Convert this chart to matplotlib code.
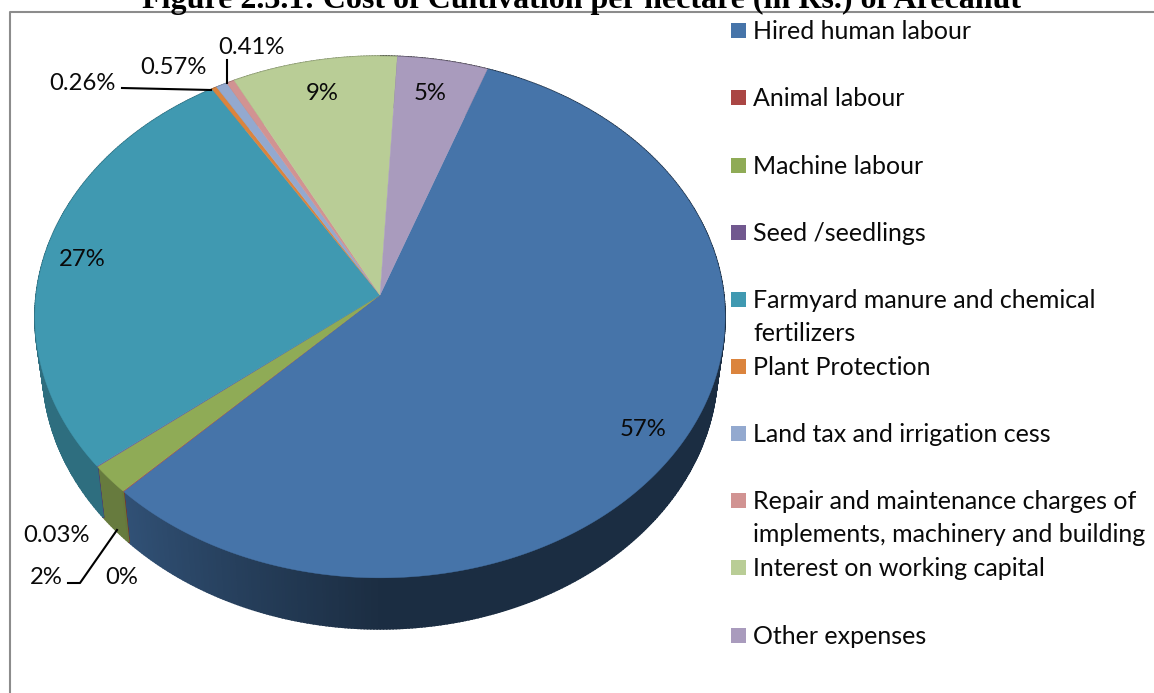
import numpy as np
import matplotlib
matplotlib.use("Agg")
import matplotlib.pyplot as plt
from matplotlib.colors import to_rgb

categories = ["Hired human labour", "Animal labour", "Machine labour", "Seed /seedlings",
              "Farmyard manure and chemical\nfertilizers", "Plant Protection",
              "Land tax and irrigation cess",
              "Repair and maintenance charges of\nimplements, machinery and building",
              "Interest on working capital", "Other expenses"]
# percentages
values = [56.9, 0.03, 1.8, 0.04, 27.0, 0.26, 0.57, 0.41, 8.4, 4.6]
value_labels = ["57%", "0.03%", "2%", "0%", "27%", "0.26%", "0.57%", "0.41%", "9%", "5%"]
colors = ["#4674a9", "#aa4644", "#8fab56", "#71588f", "#4099b1",
          "#db843d", "#93a9cf", "#d19392", "#b9cd96", "#a99bbd"]

title = "Figure 2.3.1: Cost of Cultivation per hectare (in Rs.) of Arecanut"

# pixel positions of the labels
label_pos = [(643, 429), (57, 535), (46, 577), (122, 578), (82, 260),
             (82, 83), (173, 67), (251, 47), (322, 93), (430, 93)]
legend_y = [30, 97, 165, 232, 299, 366, 433, 500, 567, 635]

# pie geometry, fitted on the picture
APEX_X, APEX_Y = 380, 295
A, B, K = 343.8, 259.0, 0.0843
START = 19.7
WALL_DY = 51
WALL_SX = 0.978


def rim(phi_deg, scale_x=1.0, dy=0.0):
    # phi clockwise from the top of the pie, slight perspective
    phi = np.radians(phi_deg)
    u, v = np.sin(phi), np.cos(phi)
    w = 1 + K * v
    return APEX_X + scale_x * A * u / w, APEX_Y + dy - B * v / w


def shade(col, f):
    return tuple(c * f for c in to_rgb(col))


fig = plt.figure(figsize=(11.54, 6.93), dpi=100)
ax = fig.add_axes([0, 0, 1, 1])
ax.set_xlim(0, 1154)
ax.set_ylim(693, 0)
ax.axis("off")

# frame, open on the right and at the bottom
ax.plot([10, 10, 1154], [693, 11.5, 11.5], color="#8c8c8c", lw=1.5, zorder=1)

fracs = np.array(values) / np.sum(values) * 360
edges = START + np.concatenate([[0], np.cumsum(fracs)])

# side wall first, the top face covers what is not visible
for i in range(len(values)):
    steps = max(int(fracs[i] * 2), 2)
    ph = np.linspace(edges[i], edges[i + 1], steps + 1)
    for p0, p1 in zip(ph[:-1], ph[1:]):
        x0, y0 = rim(p0)
        x1, y1 = rim(p1)
        x2, y2 = rim(p1, WALL_SX, WALL_DY)
        x3, y3 = rim(p0, WALL_SX, WALL_DY)
        # lighter towards the left, dark from the front to the right
        pm = ((p0 + p1) / 2) % 360
        t = np.clip((pm - 180) / 45, 0, 1)
        f = 0.39 + 0.31 * t
        if pm > 225:
            f = 0.72
        c = shade(colors[i], f)
        ax.fill([x0, x1, x2, x3], [y0, y1, y2, y3], color=c, lw=1.2, zorder=2)

# top face
for i in range(len(values)):
    ph = np.linspace(edges[i], edges[i + 1], max(int(fracs[i] * 2), 2) + 1)
    xs, ys = rim(ph)
    ax.fill(np.r_[APEX_X, xs], np.r_[APEX_Y, ys], color=colors[i], lw=0.3, zorder=3)

# leader lines
ax.plot([122, 211], [88, 90], color="black", lw=1.5, zorder=4)
ax.plot([227, 227], [60, 83], color="black", lw=1.5, zorder=4)
ax.plot([68, 80, 117], [583, 583, 530], color="black", lw=1.5, zorder=4)

for txt, (x, y) in zip(value_labels, label_pos):
    ax.text(x, y, txt, ha="center", va="center", fontsize=17.2, family="Lato",
            color="#0a0a0a", zorder=5)

# legend
for cat, col, y in zip(categories, colors, legend_y):
    ax.fill([731, 746, 746, 731], [y - 7.5, y - 7.5, y + 7.5, y + 7.5], color=col, lw=0, zorder=4)
    lines = cat.split("\n")
    for j, line in enumerate(lines):
        ax.text(753, y + 1.5 + j * 33, line, ha="left", va="center", fontsize=18, family="Lato",
                color="#0a0a0a", zorder=5)

ax.text(582, 8, title, ha="center", va="baseline", fontsize=23, fontweight="bold",
        family="Liberation Serif", color="black", zorder=5)

fig.savefig("out.png", dpi=100)
